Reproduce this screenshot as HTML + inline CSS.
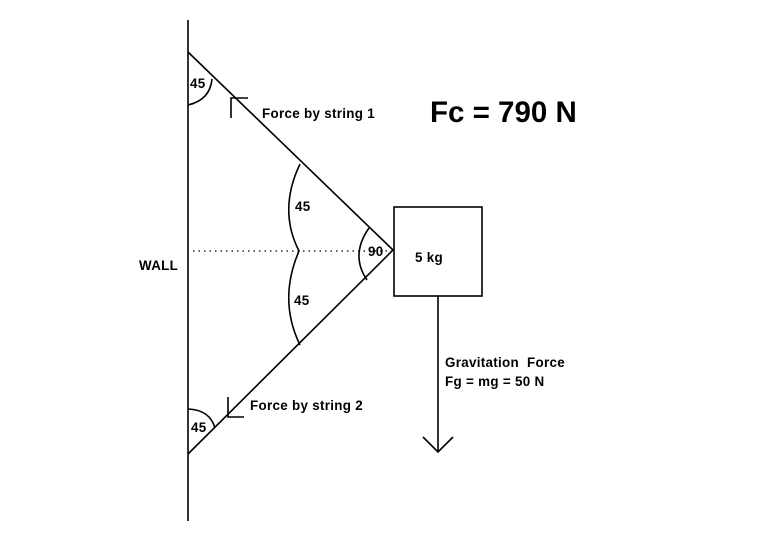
<!DOCTYPE html>
<html><head><style>
html,body{margin:0;padding:0;background:#fff;}
svg{display:block;}
text{font-family:"Liberation Sans",Arial,sans-serif;font-weight:bold;fill:#000;}
.s{font-size:13.4px;letter-spacing:0.3px;}
</style></head><body>
<svg width="764" height="556" viewBox="0 0 764 556" xmlns="http://www.w3.org/2000/svg">
<g stroke="#000" stroke-width="1.6" fill="none">
<line x1="188" y1="20" x2="188" y2="521"/>
<line x1="188" y1="52" x2="393" y2="250"/>
<line x1="393" y1="250" x2="188" y2="454"/>
<line x1="193" y1="251" x2="393" y2="251" stroke-dasharray="1.5,4" stroke-width="1.2"/>
<rect x="394" y="207" width="88" height="89"/>
<line x1="438" y1="296" x2="438" y2="452"/>
<polyline points="423,437 438,452 453,437"/>
<polyline points="231,118 231,98 248,98"/>
<polyline points="228,397 228,417 244,417"/>
<path d="M188,105 Q210,100 212,79"/>
<path d="M188,409 Q210,410 215,428"/>
<path d="M300,164 Q278,210 299,251 Q278,300 300,345"/>
<path d="M369,228 Q350,255 367,280"/>
</g>
<text x="190" y="88" class="s">45</text>
<text x="262" y="118" class="s">Force by string 1</text>
<text x="430" y="122" font-size="29.5">Fc = 790 N</text>
<text x="295" y="211" class="s">45</text>
<text x="294" y="305" class="s">45</text>
<text x="368" y="256" class="s">90</text>
<text x="415" y="262" class="s">5 kg</text>
<text x="139" y="270" class="s">WALL</text>
<text x="250" y="410" class="s">Force by string 2</text>
<text x="445" y="367" class="s" xml:space="preserve">Gravitation  Force</text>
<text x="445" y="386" class="s">Fg = mg = 50 N</text>
<text x="191" y="432" class="s">45</text>
</svg>
</body></html>
